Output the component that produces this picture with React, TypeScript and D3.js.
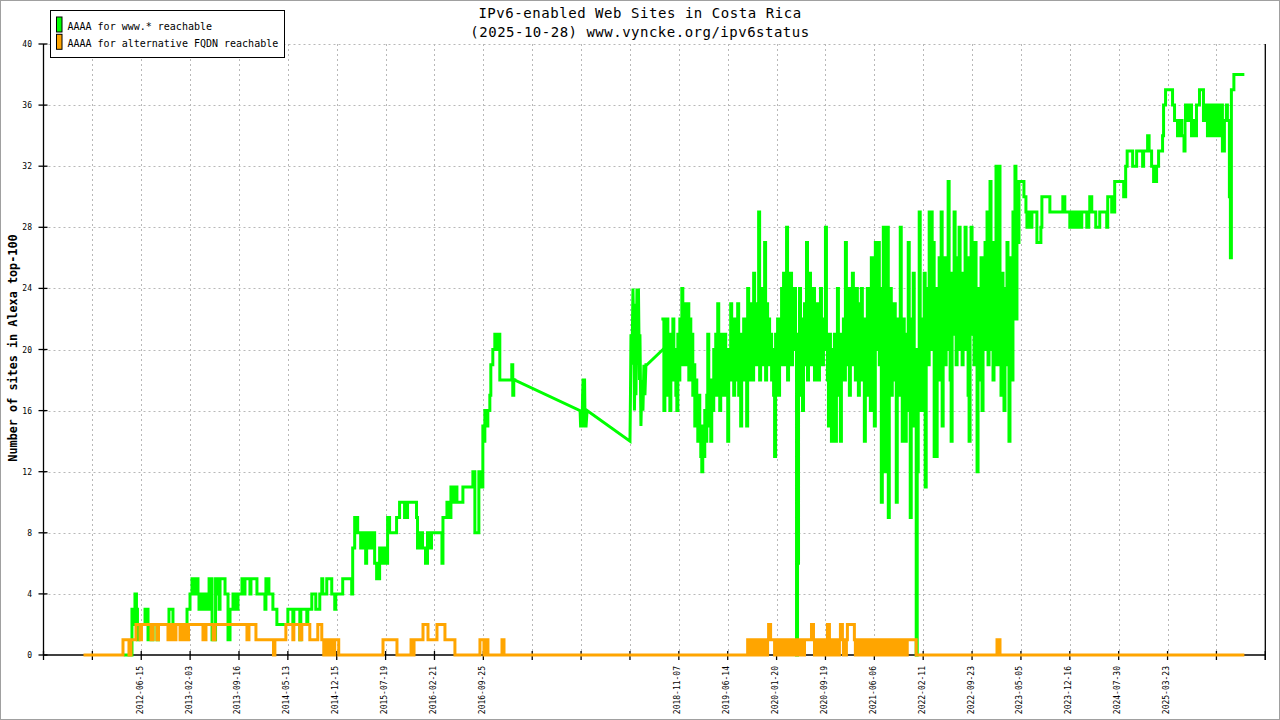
import React, { useRef, useEffect } from "react";
import * as d3 from "d3";

// x is a sample position along the plot axis, one tick every 49 samples
const xTickStep = 49;
const xTickLabels = [
  "", "", "2012-06-15", "2013-02-03", "2013-09-16", "2014-05-13", "2014-12-15",
  "2015-07-19", "2016-02-21", "2016-09-25", "", "", "", "2018-11-07", "2019-06-14",
  "2020-01-20", "2020-09-19", "2021-06-06", "2022-02-11", "2022-09-23", "2023-05-05",
  "2023-12-16", "2024-07-30", "2025-03-23", "", "",
];
const yTicks = [0, 4, 8, 12, 16, 20, 24, 28, 32, 36, 40];

// AAAA for www.* reachable (change points)
const greenEarly: [number, number][] = [
  [82,0],[88.7,3],[90.7,2],[91.7,4],[93.2,3],[94.2,1],[95.7,2],[101.8,3],[104.8,1],[106.8,2],
  [108.8,1],[109.8,2],[113.8,1],[115.3,2],[125.8,3],[129.8,2],[143.9,3],[146.9,4],[148.9,5],
  [151.9,4],[152.9,5],[154.9,4],[155.9,3],[157.9,4],[159.9,3],[161.9,4],[163.9,3],[166,5],
  [169,1],[172.5,5],[174,4],[176,3],[177,5],[182,4],[185,1],[187,3],[190,4],[193,3],[195,4],
  [199,5],[201,4],[202,5],[207,4],[208,5],[214,4],[222,3],[223,5],[226,4],[230,3],[234,2],
  [245,3],[250,2],[251,3],[257,1],[258,3],[264,2],[265,3],[269,4],[273,3],[277,4],[279,5],
  [280,4],[284,5],[289,4],[292,3],[293,4],[300,5],[309,4],[310,7],[312,9],[315,8],[318,7],
  [320,8],[323,6],[324,8],[327,7],[329,8],[332,6],[334,5],[337,7],[339,6],[341,7],[344,6],
  [345,9],[347,8],[354,9],[357,10],[362,9],[365,10],[374,9],[375,7],[378,8],[380,7],[383,6],
  [385,8],[387,7],[389,8],[399.5,6],[400.5,9],[404.5,10],[406.5,9],[408.5,11],[410.5,10],
  [413.5,11],[414.5,10],[420.5,11],[430.5,12],[432.5,8],[436.5,12],[438.5,11],[440.5,15],
  [441.5,14],[442.5,16],[444.5,15],[445.5,16],[447.5,17],[448.5,19],[450.5,20],[452.5,21],
  [454.5,20],[455.5,21],[457.5,18],[469.5,19],[470.5,17],[471.5,18],[472.5,18],
];

// sparse period, joined by straight lines
const greenGap: [number, number][] = [
  [472.5,18],[538,16],[538.5,15],[540,15],[540.5,17],[541,18],[542.5,18],[543,15],[544,15],
  [545,16],[588,14],[588.5,17],[589,21],[590,19],[591,24],[592,20],[592.5,16],[593.5,23],
  [594,17],[595,24],[596,19],[596.5,24],[597.5,18],[598,21],[599,15],[600,18],[601,16],
  [602,19],[603,17],[604,19],[605,19],[621,20],
];

// noisy period, one value per sample
const noisyStep = 1;
const greenNoisyStart = 621;
const greenNoisy = [
  22,16,21,17,22,18,20,16,21,19, 22,18,20,17,16,21,18,22,19,24,
  20,23,19,22,20,23,18,22,19,21, 17,19,15,18,16,14,17,15,13,12,
  15,13,16,14,17,21,15,18,14,17, 16,20,18,21,17,23,19,16,21,18,
  20,17,21,18,19,14,20,18,23,19, 21,17,22,19,18,23,17,20,15,21,
  18,22,19,21,15,24,18,22,19,23, 18,25,20,23,19,22,29,18,24,20,
  22,19,27,18,23,20,22,19,21,18, 20,17,13,21,18,22,17,20,19,24,
  21,25,19,23,28,18,24,20,25,19, 22,20,24,21,0,6,19,24,17,22,
  16,21,23,19,27,18,22,25,19,21, 20,24,18,22,19,23,18,21,24,20,
  19,22,21,28,20,18,15,21,17,14, 20,16,21,14,19,24,17,20,14,21,
  19,22,18,27,21,19,24,17,23,20, 25,19,22,18,24,20,17,23,19,24,
  18,21,14,22,19,24,17,20,16,26, 22,18,15,27,20,23,27,19,24,10,
  22,28,12,25,18,28,9,20,24,17, 21,18,23,19,10,20,22,17,28,19,
  14,22,18,14,21,16,27,20,9,19, 22,25,15,20,0,12,18,29,20,16,
  22,18,25,11,20,24,19,29,23,29, 20,27,13,22,13,24,18,26,21,29,
  15,22,26,19,24,20,31,22,18,14, 25,21,29,23,19,26,22,28,20,24,
  19,25,22,28,20,26,17,14,23,28, 21,25,19,27,20,12,24,22,18,26,
  16,23,20,27,22,29,19,25,31,20, 24,18,27,21,32,19,26,32,22,17,
  25,20,16,24,21,27,19,14,23,26, 18,29,24,32,22,31,27,31,
];

const greenLate: [number, number][] = [
  [979,31],[983,30],[985,29],[986,28],[988,29],[989.5,28],[991,29],[996,27],[1000,28],
  [1001,30],[1009,29],[1022,30],[1024,29],[1029,28],[1030,29],[1032,28],[1033,29],[1036,28],
  [1037,29],[1040,28],[1041,29],[1046,28],[1048,29],[1049,30],[1051,29],[1055,28],[1059,29],
  [1066,28],[1067,30],[1071,29],[1074,31],[1083,30],[1085,32],[1086.5,33],[1092,32],[1096,33],
  [1102,32],[1103,33],[1107,34],[1108.5,33],[1111,32],[1113,31],[1116,32],[1118,33],[1122,34],
  [1123,36],[1125,37],[1132,36],[1134,35],[1137,34],[1139,35],[1141,34],[1143.5,33],
  [1144.5,35],[1145,36],[1147,35],[1149,36],[1151,34],[1153,35],[1155,34],[1156,36],[1159,37],
  [1163,35],[1166,36],[1167,34],[1168,36],[1170,35],[1171,34],[1172,36],[1174,34],[1176,36],
  [1178,34],[1180,36],[1182,33],[1184,35],[1186,36],[1187,35],[1189,30],[1190,26],[1191,37],
  [1193.5,38],[1202.5,38],
];

// AAAA for alternative FQDN reachable
const orangeEarly: [number, number][] = [
  [41.6,0],[79.7,1],[85.7,0],[87.7,1],[92.7,2],[96.7,1],[98.2,2],[107.8,1],[109.8,2],
  [113.8,1],[115.3,2],[124.8,1],[126.8,2],[127.8,1],[129.3,2],[130.8,1],[132.8,2],[136.9,1],
  [138.9,2],[140.9,1],[142.9,2],[143.9,1],[145.4,2],[159.9,1],[162.9,2],[170,1],[172,2],
  [204,1],[206,2],[213,1],[230.6,0],[232,1],[243,2],[250,1],[251,2],[257,1],[259,2],[267,1],
  [275,2],[279,1],[281,0],[282,1],[284,0],[285,1],[287,0],[288,1],[290,0],[292,1],[296,0],
  [340.4,1],[354.4,0],[368.5,1],[370.5,0],[371.5,1],[380.5,2],[385.5,1],[394.5,2],[402.5,1],
  [412.5,0],[437.6,1],[441.6,0],[442.6,1],[445.6,0],[459.7,1],[461.7,0],
];
const orangeNoisyStart = 706;
const orangeNoisy = [
  1,0,1,0,1,0,1,1,0,1, 0,1,0,1,0,1,1,0,1,0,
  1,2,2,1,1,1,1,0,1,0, 1,0,1,0,1,0,0,1,0,1,
  0,1,0,1,0,1,0,1,0,1, 0,0,0,1,0,1,0,1,1,1,
  1,1,1,1,2,2,1,0,1,0, 1,0,1,0,1,0,1,0,1,0,
  2,2,1,0,1,0,1,0,1,0, 1,0,1,2,2,1,0,1,0,1,
  2,2,2,2,2,2,2,1,0,1, 0,1,0,1,0,1,0,1,0,1,
  0,1,0,1,0,1,1,0,1,0, 1,0,1,0,1,0,1,0,1,0,
  1,0,1,0,1,0,1,0,1,0, 1,0,1,0,1,0,1,0,0,0,
  1,1,1,1,1,1,1,1,1,0,
];
const orangeLate: [number, number][] = [
  [876,0],[956,1],[959,0],[1202.5,0],
];

const GREEN = "#00ff00";
const ORANGE = "#ffa500";
const FONT = "'DejaVu Sans Mono', 'Liberation Mono', monospace";

function samples(start: number, values: number[]): [number, number][] {
  return values.map((v, i) => [start + i * noisyStep, v] as [number, number]);
}

export default function App() {
  const ref = useRef<HTMLDivElement>(null);

  useEffect(() => {
    if (!ref.current) return;
    document.body.style.margin = "0";
    ref.current.innerHTML = "";

    const w = 1280;
    const h = 720;
    const left = 43.5, right = 1265.3, top = 44, bottom = 655;

    const nTicks = xTickLabels.length - 1;
    const x = d3.scaleLinear().domain([0, nTicks * xTickStep]).range([left, right]);
    const y = d3.scaleLinear().domain([0, 40]).range([bottom, top]);

    const svg = d3.select(ref.current)
      .append("svg")
      .attr("width", w)
      .attr("height", h)
      .style("display", "block")
      .style("font-family", FONT);

    svg.append("rect")
      .attr("x", 0).attr("y", 0).attr("width", w).attr("height", h)
      .attr("fill", "#fff");
    svg.append("rect")
      .attr("x", 0.5).attr("y", 0.5).attr("width", w - 1).attr("height", h - 1)
      .attr("fill", "none").attr("stroke", "#a0a0a0");

    // grid
    const grid = svg.append("g")
      .attr("stroke", "#b8b8b8")
      .attr("stroke-dasharray", "2,3")
      .attr("stroke-width", 1);
    yTicks.filter(t => t > 0).forEach(t => {
      grid.append("line")
        .attr("x1", left).attr("x2", right)
        .attr("y1", Math.round(y(t)) + 0.5).attr("y2", Math.round(y(t)) + 0.5);
    });
    d3.range(1, nTicks).forEach(i => {
      const xx = Math.round(x(i * xTickStep)) + 0.5;
      grid.append("line")
        .attr("x1", xx).attr("x2", xx)
        .attr("y1", top).attr("y2", bottom);
    });

    // axes
    const axes = svg.append("g").attr("stroke", "#000").attr("stroke-width", 1.3);
    axes.append("line").attr("x1", left).attr("x2", left).attr("y1", top).attr("y2", bottom);
    axes.append("line").attr("x1", right).attr("x2", right).attr("y1", top).attr("y2", bottom + 5);
    axes.append("line").attr("x1", left).attr("x2", right).attr("y1", bottom).attr("y2", bottom);
    yTicks.forEach(t => {
      axes.append("line")
        .attr("x1", left - 5).attr("x2", left + 4)
        .attr("y1", y(t)).attr("y2", y(t));
    });
    d3.range(0, nTicks + 1).forEach(i => {
      const xx = x(i * xTickStep);
      axes.append("line")
        .attr("x1", xx).attr("x2", xx)
        .attr("y1", bottom - 4).attr("y2", bottom + 5);
    });

    // tick labels
    yTicks.forEach(t => {
      svg.append("text")
        .attr("x", 32).attr("y", y(t) + 3)
        .attr("text-anchor", "end")
        .attr("font-size", 8)
        .text(String(t));
    });
    xTickLabels.forEach((lab, i) => {
      if (!lab) return;
      const xx = x(i * xTickStep) + 1.5;
      svg.append("text")
        .attr("transform", `translate(${xx},666) rotate(-90)`)
        .attr("text-anchor", "end")
        .attr("font-size", 8)
        .text(lab);
    });

    svg.append("text")
      .attr("transform", "translate(17,348) rotate(-90)")
      .attr("text-anchor", "middle")
      .attr("font-size", 11.8)
      .attr("font-weight", "bold")
      .text("Number of sites in Alexa top-100");

    // title
    svg.append("text")
      .attr("x", 640).attr("y", 18)
      .attr("text-anchor", "middle")
      .attr("font-size", 14)
      .attr("letter-spacing", 0.55)
      .text("IPv6-enabled Web Sites in Costa Rica");
    svg.append("text")
      .attr("x", 640).attr("y", 37)
      .attr("text-anchor", "middle")
      .attr("font-size", 14)
      .attr("letter-spacing", 0.5)
      .text("(2025-10-28) www.vyncke.org/ipv6status");

    // series
    const stepLine = d3.line<[number, number]>()
      .x(d => x(d[0]))
      .y(d => y(d[1]))
      .curve(d3.curveStepAfter);
    const straightLine = d3.line<[number, number]>()
      .x(d => x(d[0]))
      .y(d => y(d[1]));

    const drawPath = (pts: [number, number][], gen: d3.Line<[number, number]>, color: string) => {
      svg.append("path")
        .attr("d", gen(pts) ?? "")
        .attr("fill", "none")
        .attr("stroke", color)
        .attr("stroke-width", 3)
        .attr("stroke-linejoin", "miter")
        .attr("stroke-linecap", "square");
    };

    const greenSteps = [...samples(greenNoisyStart, greenNoisy), ...greenLate];
    const orangeSteps = [...orangeEarly, ...samples(orangeNoisyStart, orangeNoisy), ...orangeLate];

    drawPath(greenEarly, stepLine, GREEN);
    drawPath(greenGap, straightLine, GREEN);
    drawPath(greenSteps, stepLine, GREEN);
    drawPath(orangeSteps, stepLine, ORANGE);

    // legend
    const lg = svg.append("g");
    lg.append("rect")
      .attr("x", 50.5).attr("y", 10.5).attr("width", 234).attr("height", 47)
      .attr("fill", "#fff").attr("stroke", "#000");
    const items = [
      { label: "AAAA for www.* reachable", color: GREEN },
      { label: "AAAA for alternative FQDN reachable", color: ORANGE },
    ];
    items.forEach((it, i) => {
      lg.append("rect")
        .attr("x", 56.5).attr("y", 17 + i * 17.3)
        .attr("width", 5.5).attr("height", 15)
        .attr("fill", it.color).attr("stroke", "#000");
      lg.append("text")
        .attr("x", 67.5).attr("y", 29.8 + i * 17.3)
        .attr("font-size", 10)
        .text(it.label);
    });
  }, []);

  return <div ref={ref} />;
}
